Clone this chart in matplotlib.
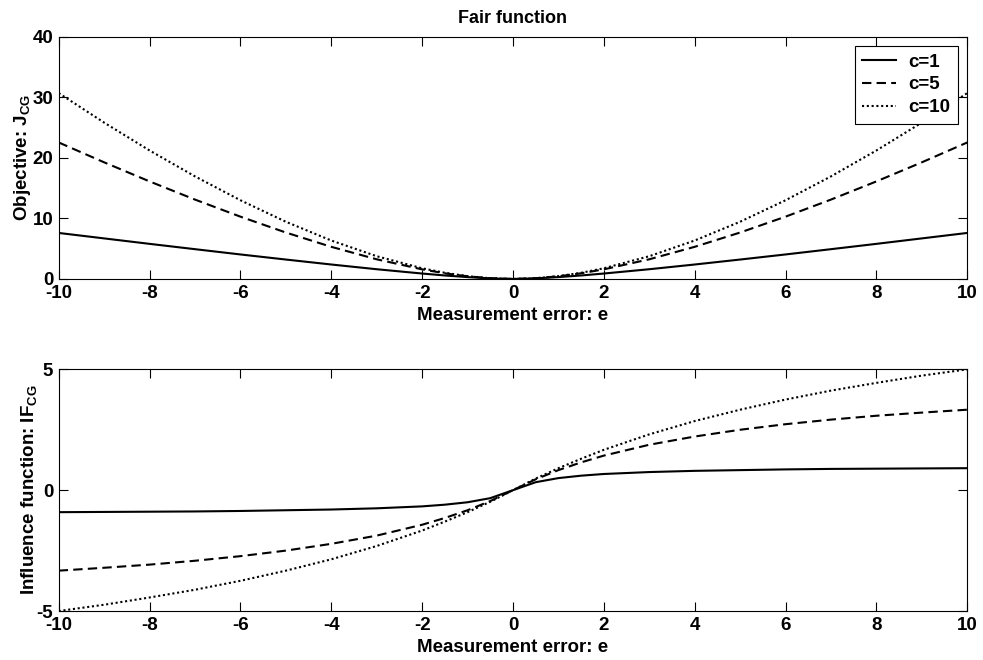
"""Fair M-estimator: objective and influence function for three tuning constants"""
import matplotlib as mpl
import matplotlib.pyplot as plt

mpl.rcParams.update({
    "font.family": "sans-serif",
    "font.sans-serif": ["Liberation Sans", "DejaVu Sans"],
    "font.weight": "bold",
    "font.size": 13.5,
    "axes.linewidth": 0.8,
    "axes.unicode_minus": False,
    "mathtext.fontset": "custom",
    "mathtext.rm": "Liberation Sans:bold",
    "mathtext.bf": "Liberation Sans:bold",
    "mathtext.it": "Liberation Sans:bold",
    "mathtext.default": "bf",
})

# ── Data ──
err = [-10, -9, -8, -7, -6, -5, -4, -3, -2, -1.5, -1, -0.5, 0,
       0.5, 1, 1.5, 2, 3, 4, 5, 6, 7, 8, 9, 10]

obj_c1 = [7.60, 6.70, 5.80, 4.92, 4.05, 3.21, 2.39, 1.61, 0.90, 0.58, 0.31, 0.10, 0.0,
          0.10, 0.31, 0.58, 0.90, 1.61, 2.39, 3.21, 4.05, 4.92, 5.80, 6.70, 7.60]
obj_c5 = [22.54, 19.26, 16.11, 13.11, 10.29, 7.67, 5.31, 3.25, 1.59, 0.94, 0.44, 0.12, 0.0,
          0.12, 0.44, 0.94, 1.59, 3.25, 5.31, 7.67, 10.29, 13.11, 16.11, 19.26, 22.54]
obj_c10 = [30.69, 25.82, 21.22, 16.94, 13.00, 9.45, 6.35, 3.76, 1.77, 1.02, 0.47, 0.12, 0.0,
           0.12, 0.47, 1.02, 1.77, 3.76, 6.35, 9.45, 13.00, 16.94, 21.22, 25.82, 30.69]

inf_c1 = [-0.91, -0.90, -0.89, -0.88, -0.86, -0.83, -0.80, -0.75, -0.67, -0.60, -0.50, -0.33, 0.0,
          0.33, 0.50, 0.60, 0.67, 0.75, 0.80, 0.83, 0.86, 0.88, 0.89, 0.90, 0.91]
inf_c5 = [-3.33, -3.21, -3.08, -2.92, -2.73, -2.50, -2.22, -1.88, -1.43, -1.15, -0.83, -0.45, 0.0,
          0.45, 0.83, 1.15, 1.43, 1.88, 2.22, 2.50, 2.73, 2.92, 3.08, 3.21, 3.33]
inf_c10 = [-5.00, -4.74, -4.44, -4.12, -3.75, -3.33, -2.86, -2.31, -1.67, -1.30, -0.91, -0.48, 0.0,
           0.48, 0.91, 1.30, 1.67, 2.31, 2.86, 3.33, 3.75, 4.12, 4.44, 4.74, 5.00]

labels = ["c=1", "c=5", "c=10"]
styles = ["-", (0, (4.5, 2.5)), (0, (1, 1.3))]

# ── Plot ──
fig = plt.figure(figsize=(9.83, 6.6), dpi=100)
ax1 = fig.add_axes([0.0597, 0.5773, 0.9243, 0.3671])
ax2 = fig.add_axes([0.0597, 0.0742, 0.9243, 0.3662])

for ax in (ax1, ax2):
    ax.tick_params(direction="in", length=6.5, width=0.8, top=True, right=True,
                   labelsize=13.5, pad=4)
    ax.set_xlim(-10, 10)
    ax.set_xticks(range(-10, 11, 2))
    ax.set_xlabel("Measurement error: e", fontsize=13.5, fontweight="bold", labelpad=4)

for y, ls, lab in zip([obj_c1, obj_c5, obj_c10], styles, labels):
    ax1.plot(err, y, color="black", linestyle=ls, linewidth=1.5, label=lab)
ax1.set_ylim(0, 40)
ax1.set_yticks([0, 10, 20, 30, 40])
ax1.set_ylabel("Objective: J$_{CG}$", fontsize=13.5, fontweight="bold")
ax1.yaxis.set_label_coords(-0.028, 0.5)
ax1.set_title("Fair function", fontsize=13, fontweight="bold", pad=10)
leg = ax1.legend(loc="upper right", fontsize=13.5, frameon=True, fancybox=False,
                 edgecolor="black", framealpha=1, handlelength=1.8,
                 borderaxespad=0.5, labelspacing=0.3, handletextpad=0.65,
                 borderpad=0.4)
leg.get_frame().set_linewidth(0.8)

for y, ls in zip([inf_c1, inf_c5, inf_c10], styles):
    ax2.plot(err, y, color="black", linestyle=ls, linewidth=1.5)
ax2.set_ylim(-5, 5)
ax2.set_yticks([-5, 0, 5])
ax2.set_ylabel("Influence function: IF$_{CG}$", fontsize=13.5, fontweight="bold")
ax2.yaxis.set_label_coords(-0.0217, 0.5)

fig.savefig("out.png", dpi=100)
